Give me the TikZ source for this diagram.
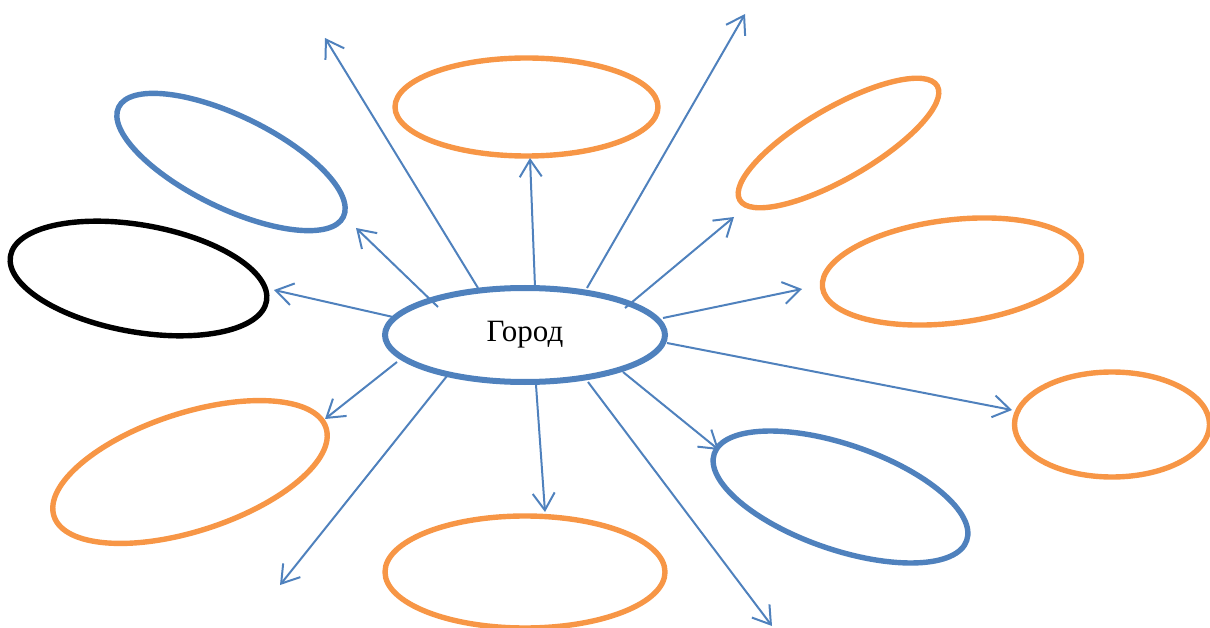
\documentclass[tikz,border=0pt]{standalone}
\usepackage{fontspec}
\setmainfont{Liberation Serif}
\usetikzlibrary{shapes.geometric,arrows.meta}
\definecolor{bl}{HTML}{4F81BD}
\definecolor{orng}{HTML}{F79646}
\tikzset{
  ell/.style={ellipse, draw, line width=5.4pt, inner sep=0pt},
  arr/.style={draw=bl, line width=2pt, -{Straight Barb[length=17pt,width=22pt]}},
}
\begin{document}
\begin{tikzpicture}[x=1pt,y=-1pt]
\useasboundingbox (0,0) rectangle (1210,628);
% central
\node[ell, draw=bl, line width=6pt, minimum width=280pt, minimum height=94pt] (g) at (525,335) {\fontsize{31}{36}\selectfont Город};
% surrounding ellipses
\node[ell, draw=orng, minimum width=263pt, minimum height=98pt] (top) at (526.5,107) {};
\node[ell, draw=bl, minimum width=250pt, minimum height=92pt, rotate=-26] (tl) at (231,162) {};
\node[ell, draw=black, minimum width=260pt, minimum height=107pt, rotate=-10] (lf) at (138.5,278.5) {};
\node[ell, draw=orng, minimum width=286pt, minimum height=118pt, rotate=18] (bl) at (190,472) {};
\node[ell, draw=orng, minimum width=280pt, minimum height=112pt] (bt) at (525,572) {};
\node[ell, draw=bl, minimum width=267pt, minimum height=105pt, rotate=-19] (br) at (840.5,497) {};
\node[ell, draw=orng, minimum width=195pt, minimum height=105pt] (rt) at (1112,424.5) {};
\node[ell, draw=orng, minimum width=261pt, minimum height=103pt, rotate=7] (rm) at (952,271.5) {};
\node[ell, draw=orng, minimum width=228pt, minimum height=71pt, rotate=30] (tr) at (838.5,143) {};
% arrow start points (on/near the central ellipse)
\coordinate (s1) at (478,288);
\coordinate (s2) at (535,287);
\coordinate (s3) at (587,288);
\coordinate (s4) at (625,308);
\coordinate (s5) at (663,318);
\coordinate (s6) at (667,343);
\coordinate (s7) at (623,372);
\coordinate (s8) at (588,382);
\coordinate (s9) at (536,385);
\coordinate (s10) at (447,376);
\coordinate (s11) at (397,362);
\coordinate (s12) at (393,317);
\coordinate (s13) at (438,307);
% arrow end points
\coordinate (e1) at (325,38);
\coordinate (e2) at (530,158);
\coordinate (e3) at (745,14);
\coordinate (e4) at (734,217);
\coordinate (e5) at (802,289);
\coordinate (e6) at (1012,410);
\coordinate (e7) at (719,450);
\coordinate (e8) at (772,626);
\coordinate (e9) at (545,512);
\coordinate (e10) at (280,585);
\coordinate (e11) at (325,419);
\coordinate (e12) at (274,290);
\coordinate (e13) at (356,228);
\foreach \i in {1,...,13} { \draw[arr] (s\i) -- (e\i); }
\end{tikzpicture}
\end{document}
